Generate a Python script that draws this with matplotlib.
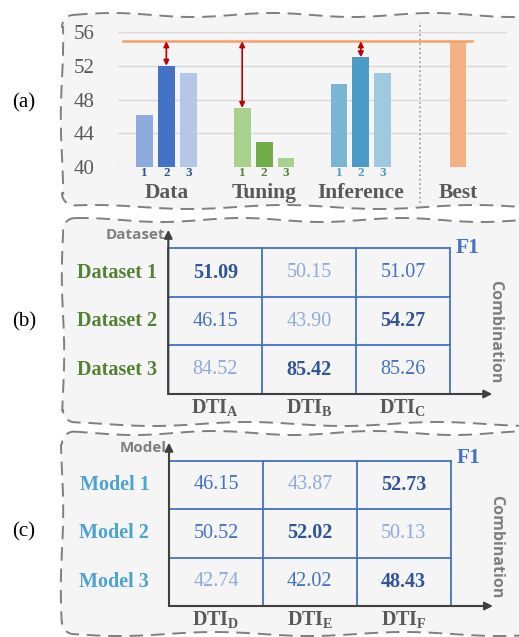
import numpy as np
import matplotlib
matplotlib.use('Agg')
import matplotlib.pyplot as plt
from matplotlib.patches import PathPatch
from matplotlib.path import Path

plt.rcParams['font.family'] = ['Liberation Serif', 'DejaVu Serif']
plt.rcParams['mathtext.fontset'] = 'custom'
plt.rcParams['mathtext.rm'] = 'Liberation Serif'
plt.rcParams['mathtext.bf'] = 'Liberation Serif:bold'

# ---- panel (a) data ----
groups = ["Data", "Tuning", "Inference"]
group_scores = [[46.2, 52.0, 51.2],
                [47.0, 43.0, 41.1],
                [49.8, 53.0, 51.1]]
group_colors = [["#8FAADC", "#4472C4", "#B4C7E7"],
                ["#A9D18E", "#70AD47", "#A9D18E"],
                ["#7AB5D4", "#4A9BC6", "#9EC9DF"]]
num_colors = ["#2F5597", "#548235", "#4A9BC6"]
best_label = "Best"
best_score = 54.9
arrow_from = [1, 0, 1]   # which bar of each group gets the red gap arrow
yticks_a = [40, 44, 48, 52, 56]

# ---- panel (b)/(c) data ----
dataset_rows = ["Dataset 1", "Dataset 2", "Dataset 3"]
dataset_cols = ["A", "B", "C"]
dataset_f1 = [["51.09", "50.15", "51.07"],
              ["46.15", "43.90", "54.27"],
              ["84.52", "85.42", "85.26"]]
dataset_rank = [[0, 2, 1],
                [1, 2, 0],
                [2, 0, 1]]
model_rows = ["Model 1", "Model 2", "Model 3"]
model_cols = ["D", "E", "F"]
model_f1 = [["46.15", "43.87", "52.73"],
            ["50.52", "52.02", "50.13"],
            ["42.74", "42.02", "48.43"]]
model_rank = [[1, 2, 0],
              [1, 0, 2],
              [2, 1, 0]]
rank_colors = ["#2F5597", "#4472C4", "#8FAADC"]

W, H = 519, 637
fig = plt.figure(figsize=(W / 100, H / 100), dpi=100)

# background axes in pixel coords for the wavy dashed panels
bg = fig.add_axes([0, 0, 1, 1])
bg.set_xlim(0, W)
bg.set_ylim(H, 0)
bg.axis('off')


def wavy_panel(x0, x1, y0, y1, r=12, amp=2.0, phase=0.0):
    pts = []
    xs = np.linspace(x0 + r, x1, 80)
    top = y0 + amp * np.sin(2 * np.pi * xs / 160 + phase)
    bot = y1 + amp * np.sin(2 * np.pi * xs / 190 + phase + 1.3)
    pts += list(zip(xs, top))
    pts += [(x1, y1)]
    pts += list(zip(xs[::-1], bot[::-1]))
    th = np.linspace(np.pi / 2, np.pi, 10)
    cy = bot[0] - r
    pts += list(zip(x0 + r + r * np.cos(th), cy + r * np.sin(th)))
    ys = np.linspace(cy, y0 + r, 20)
    pts += list(zip(x0 + 1.2 * np.sin(ys / 25.0), ys))
    th = np.linspace(np.pi, 1.5 * np.pi, 10)
    pts += list(zip(x0 + r + r * np.cos(th), top[0] + r + r * np.sin(th)))
    pts.append(pts[0])
    bg.add_patch(PathPatch(Path(pts), facecolor="#F5F5F5", edgecolor="#7F7F7F",
                           lw=1.4, linestyle=(0, (7, 4))))


wavy_panel(62, 530, 15, 207, phase=0.3)
wavy_panel(63, 530, 220, 424, phase=1.5)
wavy_panel(62, 530, 433, 634, phase=2.6)

for lab, yy in [("(a)", 103), ("(b)", 322), ("(c)", 532)]:
    bg.text(24, yy, lab, fontsize=15, ha='center', va='center', color="#000000")

# ---------------- panel (a) ----------------
ax = fig.add_axes([118 / W, (H - 167) / H, 389 / W, 135 / H])
ax.set_facecolor('none')
ax.set_ylim(40, 56)
ax.set_xlim(-1.2, 16.5)
ax.set_yticks(yticks_a)
ax.set_yticklabels([str(t) for t in yticks_a], fontsize=15, color="#595959")
ax.tick_params(axis='y', length=0, pad=17)
ax.set_xticks([])
for s in ax.spines.values():
    s.set_visible(False)
for t in yticks_a:
    ax.axhline(t, color="#D9D9D9", lw=1.0, zorder=0)

group_starts = [0, 4.45, 8.85]
bw = 0.76
for g, (name, scores, cols) in enumerate(zip(groups, group_scores, group_colors)):
    xs = group_starts[g] + np.arange(3)
    ax.bar(xs, np.array(scores) - 40, bottom=40, width=bw, color=cols, zorder=2)
    for i, x in enumerate(xs):
        ax.text(x, -0.045, str(i + 1), transform=ax.get_xaxis_transform(),
                ha='center', va='center', fontsize=9.5, fontweight='bold',
                color=num_colors[g])
    ax.text(xs[1], -0.195, name, transform=ax.get_xaxis_transform(),
            ha='center', va='center', fontsize=15.5, fontweight='bold', color="#595959")
    xa = xs[arrow_from[g]]
    ax.annotate("", xy=(xa, scores[arrow_from[g]]), xytext=(xa, best_score),
                arrowprops=dict(arrowstyle="<|-|>", color="#C00000", lw=1.2,
                                mutation_scale=8, shrinkA=0, shrinkB=0), zorder=4)

best_x = 14.27
ax.bar([best_x], [best_score - 40], bottom=40, width=bw, color="#F4B183", zorder=2)
ax.text(best_x, -0.195, best_label, transform=ax.get_xaxis_transform(),
        ha='center', va='center', fontsize=15.5, fontweight='bold', color="#595959")
ax.plot([-0.97, 14.9], [best_score, best_score], color="#F2A06A", lw=1.8, zorder=3)
ax.plot([12.55, 12.55], [-0.27, 1.075], transform=ax.get_xaxis_transform(),
        color="#A6A6A6", lw=1.3, linestyle=(0, (1, 1.5)), clip_on=False, zorder=1)


# ---------------- panels (b) and (c) ----------------
def grid_panel(rect, rows, cols, vals, rank, row_color, ylab, row_x, ytop, f1_y, comb_y):
    a = fig.add_axes(rect)
    a.set_facecolor('none')
    a.set_xlim(0, 3)
    a.set_ylim(3, 0)
    a.axis('off')
    for k in range(4):
        a.plot([0, 3], [k, k], color="#4472C4", lw=1.3, clip_on=False)
        a.plot([k, k], [0, 3], color="#4472C4", lw=1.3, clip_on=False)
    for i in range(3):
        for j in range(3):
            best = rank[i][j] == 0
            a.text(j + 0.5, i + 0.5, vals[i][j], ha='center', va='center',
                   fontsize=14.5, color=rank_colors[rank[i][j]],
                   fontweight='bold' if best else 'normal')
        a.text(row_x, i + 0.5, rows[i], ha='right', va='center', fontsize=14.5,
               fontweight='bold', color=row_color)
    for j in range(3):
        a.text(j + 0.5, 3.3, r"$\mathbf{DTI}_\mathbf{%s}$" % cols[j], ha='center',
               va='center', fontsize=14.5, color="#595959")
    # L-shaped axis arrows
    a.annotate("", xy=(0, ytop), xytext=(0, 3.0), annotation_clip=False,
               arrowprops=dict(arrowstyle="-|>", color="#404040", lw=1.5,
                               mutation_scale=12, shrinkA=0, shrinkB=0))
    a.annotate("", xy=(3.45, 3), xytext=(0, 3), annotation_clip=False,
               arrowprops=dict(arrowstyle="-|>", color="#404040", lw=1.5,
                               mutation_scale=12, shrinkA=0, shrinkB=0))
    a.text(-0.03, ytop + 0.1, ylab, ha='right', va='center', fontsize=11,
           fontweight='bold', color="#7F7F7F", family=['Open Sans', 'DejaVu Sans'])
    a.text(3.06, f1_y, "F1", ha='left', va='center', fontsize=15.5,
           fontweight='bold', color="#4472C4")
    a.text(3.48, comb_y, "Combination", ha='center', va='center', rotation=270,
           fontsize=11.5, fontweight='bold', color="#7F7F7F",
           family=['Open Sans', 'DejaVu Sans'])


grid_panel([168.3 / W, (H - 394) / H, 281.7 / W, 145.7 / H],
           dataset_rows, dataset_cols, dataset_f1, dataset_rank, "#548235",
           "Dataset", -0.12, -0.38, 0.0, 1.72)
grid_panel([169 / W, (H - 606) / H, 281.7 / W, 145.3 / H],
           model_rows, model_cols, model_f1, model_rank, "#4BA3CF",
           "Model", -0.21, -0.37, -0.05, 1.78)

fig.savefig("out.png", dpi=100)
